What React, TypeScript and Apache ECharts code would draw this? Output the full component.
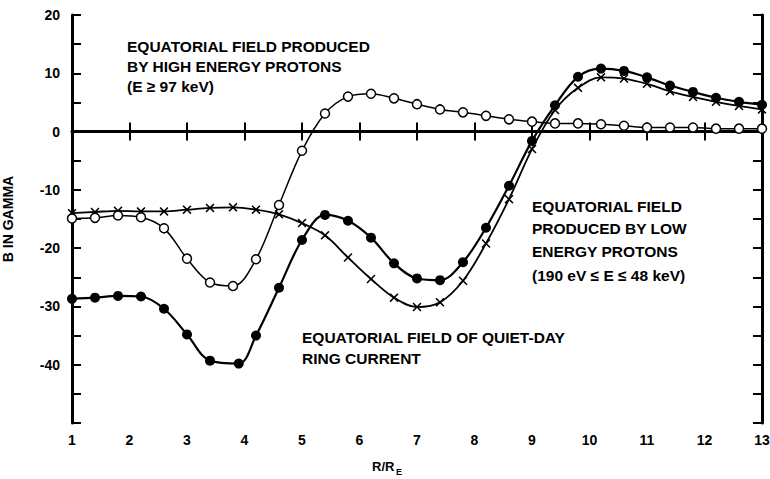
import React, { useEffect, useRef } from "react";
import * as echarts from "echarts";

// R/RE positions and field values (gamma)
const highEnergyX = [1, 1.4, 1.8, 2.2, 2.6, 3.0, 3.4, 3.8, 4.2, 4.6, 5.0, 5.4, 5.8, 6.2, 6.6, 7.0, 7.4, 7.8, 8.2, 8.6, 9.0, 9.4, 9.8, 10.2, 10.6, 11.0, 11.4, 11.8, 12.2, 12.6, 13.0];
const highEnergyY = [-14.9, -14.8, -14.4, -14.7, -16.6, -21.8, -25.9, -26.5, -21.9, -12.6, -3.3, 3.1, 6.0, 6.5, 5.7, 4.7, 3.8, 3.3, 2.7, 2.1, 1.7, 1.4, 1.4, 1.25, 1.0, 0.7, 0.7, 0.7, 0.5, 0.5, 0.5];

const lowEnergyX = [1, 1.4, 1.8, 2.2, 2.6, 3.0, 3.4, 3.8, 4.2, 4.6, 5.0, 5.4, 5.8, 6.2, 6.6, 7.0, 7.4, 7.8, 8.2, 8.6, 9.0, 9.4, 9.8, 10.2, 10.6, 11.0, 11.4, 11.8, 12.2, 12.6, 13.0];
const lowEnergyY = [-14.0, -13.8, -13.6, -13.7, -13.7, -13.4, -13.1, -13.0, -13.4, -14.2, -15.7, -17.8, -21.6, -25.3, -28.5, -30.1, -29.3, -25.6, -19.2, -11.6, -3.0, 3.7, 7.5, 9.3, 9.1, 8.2, 6.9, 5.95, 5.1, 4.4, 3.8];

const quietDayX = [1, 1.4, 1.8, 2.2, 2.6, 3.0, 3.4, 3.9, 4.2, 4.6, 5.0, 5.4, 5.8, 6.2, 6.6, 7.0, 7.4, 7.8, 8.2, 8.6, 9.0, 9.4, 9.8, 10.2, 10.6, 11.0, 11.4, 11.8, 12.2, 12.6, 13.0];
const quietDayY = [-28.7, -28.5, -28.2, -28.3, -30.4, -34.8, -39.3, -39.8, -35.0, -26.8, -18.6, -14.3, -15.3, -18.2, -22.6, -25.2, -25.5, -22.4, -16.5, -9.3, -1.6, 4.5, 9.4, 10.8, 10.4, 9.3, 7.9, 6.8, 5.8, 5.1, 4.6];

const xTicks = [1, 2, 3, 4, 5, 6, 7, 8, 9, 10, 11, 12, 13];
const yLabelled = [20, 10, 0, -10, -20, -30, -40];

const annotationHigh = ["EQUATORIAL FIELD PRODUCED", "BY HIGH ENERGY PROTONS", "(E ≥ 97 keV)"];
const annotationLow = ["EQUATORIAL FIELD", "PRODUCED BY LOW", "ENERGY PROTONS", "(190 eV ≤ E ≤ 48 keV)"];
const annotationQuiet = ["EQUATORIAL FIELD OF QUIET-DAY", "RING CURRENT"];

const FONT = "Liberation Sans";
const CROSS = "path://M0,1.2 L1.2,0 L5,3.8 L8.8,0 L10,1.2 L6.2,5 L10,8.8 L8.8,10 L5,6.2 L1.2,10 L0,8.8 L3.8,5 Z";

function pairs(xs: number[], ys: number[]) {
  return xs.map((x, i) => [x, ys[i]]);
}

export default function App() {
  const ref = useRef<HTMLDivElement>(null);
  useEffect(() => {
    if (!ref.current) return;
    const chart = echarts.init(ref.current, null, { renderer: "svg" });
    const textStyleBase = { fill: "#000", font: `bold 15.5px "${FONT}"` };
    const mkLines = (lines: string[], x: number, ys: number[]) =>
      lines.map((t, i) => ({
        type: "text",
        x,
        y: ys[i],
        style: { ...textStyleBase, text: t, verticalAlign: "middle", align: "left" },
      }));
    chart.setOption({
      animation: false,
      backgroundColor: "#fff",
      grid: { left: 72, right: 8, top: 15, bottom: 56, containLabel: false, outerBoundsMode: "none" },
      xAxis: [
        {
          type: "value",
          min: 1,
          max: 13,
          interval: 1,
          position: "bottom",
          axisLine: { show: true, lineStyle: { color: "#000", width: 3 } },
          axisTick: { show: true, inside: true, length: 9, lineStyle: { color: "#000", width: 2 } },
          axisLabel: {
            color: "#000",
            fontFamily: FONT,
            fontWeight: "bold",
            fontSize: 14,
            margin: 10,
            formatter: (v: number) => (xTicks.includes(v) ? String(v) : ""),
          },
          splitLine: { show: false },
        },
        {
          type: "value",
          min: 1,
          max: 13,
          interval: 1,
          position: "top",
          axisLine: { show: true, lineStyle: { color: "#000", width: 2.5 } },
          axisTick: { show: true, inside: true, length: 9, lineStyle: { color: "#000", width: 2 } },
          axisLabel: { show: false },
          splitLine: { show: false },
        },
      ],
      yAxis: [
        {
          type: "value",
          min: -50,
          max: 20,
          interval: 5,
          position: "left",
          name: "B IN GAMMA",
          nameLocation: "middle",
          nameRotate: 90,
          nameGap: 57,
          nameTextStyle: { color: "#000", fontFamily: FONT, fontWeight: "bold", fontSize: 14 },
          axisLine: { show: true, lineStyle: { color: "#000", width: 3 } },
          axisTick: { show: true, inside: true, length: 9, lineStyle: { color: "#000", width: 2 } },
          axisLabel: {
            color: "#000",
            fontFamily: FONT,
            fontWeight: "bold",
            fontSize: 14,
            margin: 12,
            formatter: (v: number) => (yLabelled.includes(v) ? (v < 0 ? "-" + Math.abs(v) : String(v)) : ""),
          },
          splitLine: { show: false },
        },
        {
          type: "value",
          min: -50,
          max: 20,
          interval: 5,
          position: "right",
          axisLine: { show: true, lineStyle: { color: "#000", width: 3 } },
          axisTick: { show: true, inside: true, length: 9, lineStyle: { color: "#000", width: 2 } },
          axisLabel: { show: false },
          splitLine: { show: false },
        },
      ],
      series: [
        {
          type: "line",
          name: "Quiet-day ring current",
          data: pairs(quietDayX, quietDayY),
          smooth: 0.35,
          symbol: "circle",
          symbolSize: 10,
          lineStyle: { color: "#000", width: 2.2 },
          itemStyle: { color: "#000" },
          z: 3,
          markLine: {
            silent: true,
            symbol: "none",
            label: { show: false },
            lineStyle: { color: "#000", width: 1.5, type: "solid" },
            data: [{ yAxis: 0 }],
          },
        },
        {
          type: "line",
          name: "Low energy protons",
          data: pairs(lowEnergyX, lowEnergyY),
          smooth: 0.35,
          symbol: CROSS,
          symbolSize: 9,
          lineStyle: { color: "#000", width: 1.8 },
          itemStyle: { color: "#000" },
          z: 4,
        },
        {
          type: "line",
          name: "High energy protons",
          data: pairs(highEnergyX, highEnergyY),
          smooth: 0.35,
          symbol: "circle",
          symbolSize: 9,
          lineStyle: { color: "#000", width: 1.5 },
          itemStyle: { color: "#fff", borderColor: "#000", borderWidth: 1.5 },
          z: 5,
        },
      ],
      graphic: [
        ...mkLines(annotationHigh, 127, [46, 66, 86]),
        ...mkLines(annotationLow, 532, [206, 228, 251, 275]),
        ...mkLines(annotationQuiet, 302, [337, 358]),
        {
          type: "text",
          x: 372,
          y: 466,
          style: { fill: "#000", font: `bold 13px "${FONT}"`, text: "R/R", verticalAlign: "middle", align: "left" },
        },
        {
          type: "text",
          x: 396,
          y: 472,
          style: { fill: "#000", font: `bold 9px "${FONT}"`, text: "E", verticalAlign: "middle", align: "left" },
        },
      ],
    });
    return () => chart.dispose();
  }, []);
  return (
    <div
      ref={ref}
      style={{ position: "fixed", left: 0, top: 0, width: 770, height: 479, background: "#fff" }}
    />
  );
}
